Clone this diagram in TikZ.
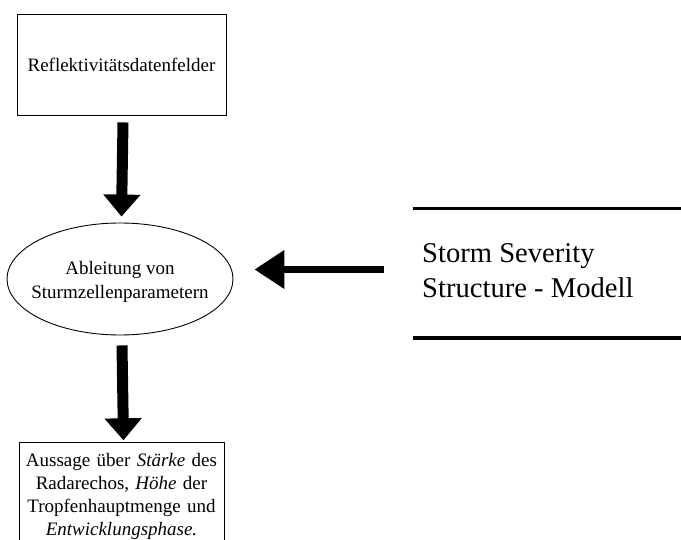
\documentclass[tikz,border=0pt]{standalone}
\usepackage{fontspec}
\setmainfont{Liberation Serif}
\usetikzlibrary{arrows.meta,positioning,shapes.geometric}

\tikzset{
  box/.style={draw,line width=0.9pt,align=center,inner sep=0pt,
    font=\fontsize{19}{23}\selectfont},
  fatdown/.style={line width=11pt,-{Triangle[length=22pt,width=36pt]}},
  fatleft/.style={line width=7.7pt,-{Triangle[length=30pt,width=37pt]}},
  rule/.style={line width=3.5pt}
}

\begin{document}
\begin{tikzpicture}[x=1pt,y=-1pt]
        \useasboundingbox (0,0) rectangle (681,540);
        \clip (0,0) rectangle (681,540);
        % left column
        \node[box,minimum width=209pt,minimum height=101pt] (feld) at (121.5,64.5) {Reflektivit\"atsdatenfelder};
        \node[draw,line width=0.9pt,ellipse,minimum width=226pt,minimum height=112pt,inner sep=0pt] (ableitung) at (120,279) {};
        \node[align=center,inner sep=0pt,font=\fontsize{19}{24}\selectfont] (ableitungtext) at ([yshift=-2.5pt]ableitung.center) {Ableitung von\\Sturmzellenparametern};
        \node[box,anchor=north,text width=205pt] (aussage) at (121.5,442.3) {\rule{0pt}{24pt}Aussage \"uber \textit{St\"arke} des\\Radarechos, \textit{H\"ohe} der\\Tropfenhauptmenge und\\\textit{Entwicklungsphase.}\rule[-20pt]{0pt}{20pt}};
        \draw[fatdown] ([xshift=1.5pt,yshift=-7pt]feld.south) -- ([xshift=1.5pt,yshift=6pt]ableitung.north);
        \draw[fatdown] ([xshift=2pt,yshift=-10pt]ableitung.south) -- ([xshift=2pt,yshift=2pt]aussage.north);
        % model on the right
        \node[anchor=west,align=left,inner sep=0pt,font=\fontsize{28.6}{35}\selectfont] (modell) at (422,271) {Storm Severity\\Structure - Modell};
        \coordinate (oben) at (412.7,208.5);
        \coordinate (unten) at (412.7,338);
        \draw[rule] (oben) -- (oben -| 681,0);
        \draw[rule] (unten) -- (unten -| 681,0);
        \draw[fatleft] ([xshift=-38pt,yshift=1.5pt]modell.west) -- ([xshift=21pt,yshift=9.5pt]ableitung.east);
      \end{tikzpicture}
\end{document}
